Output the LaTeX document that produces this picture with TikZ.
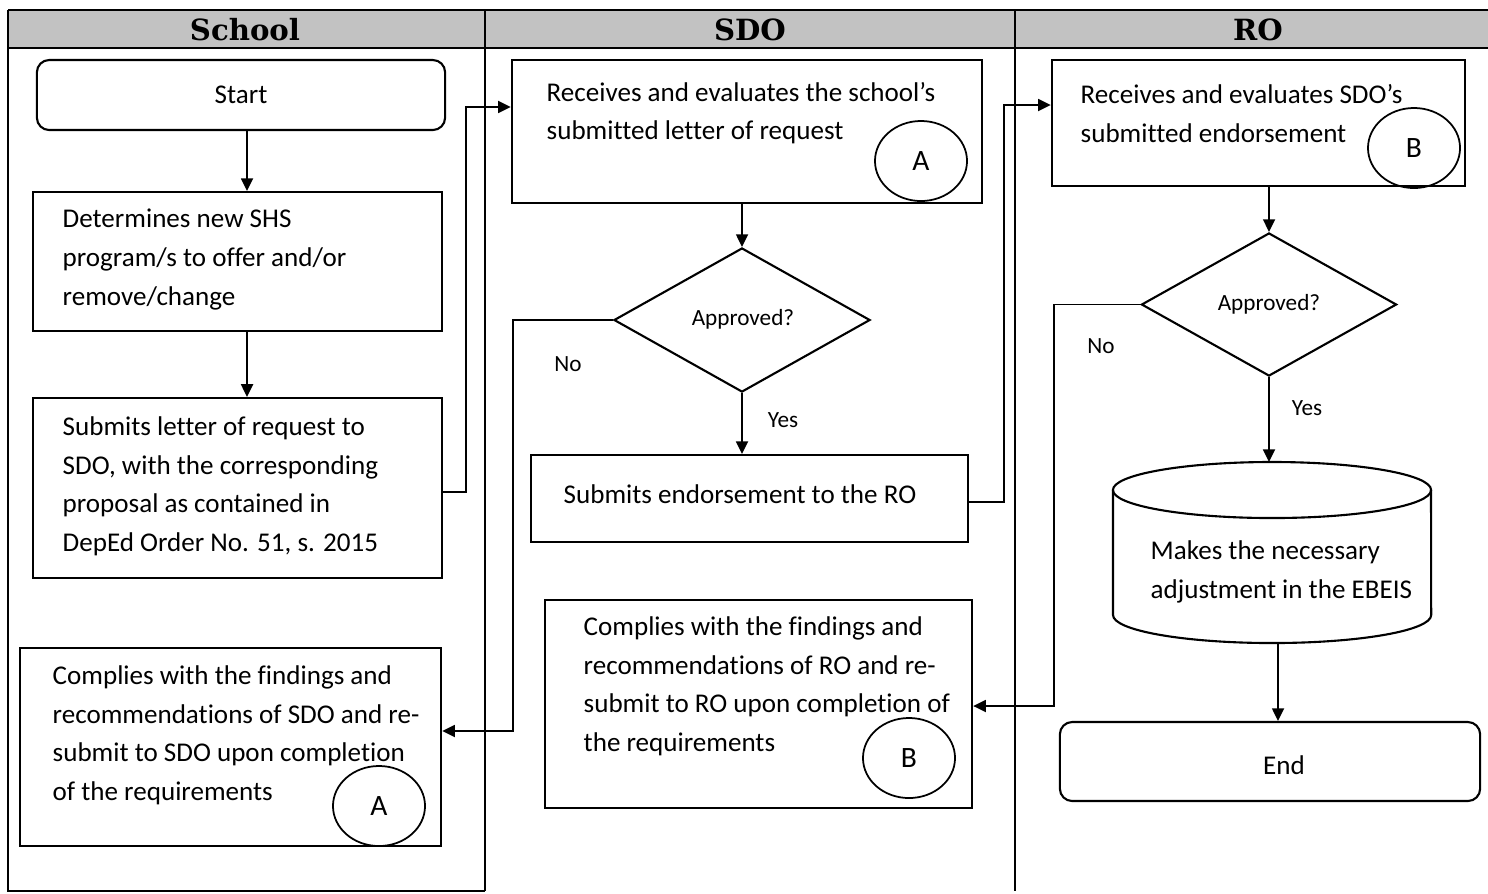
\documentclass[tikz,border=0pt]{standalone}
\usepackage{fontspec}
\setmainfont{Carlito}[Ligatures=NoCommon]
\newfontfamily\hdrfont{DejaVu Serif}
\usetikzlibrary{shapes.geometric,arrows.meta}
\begin{document}
\begin{tikzpicture}[x=0.01cm,y=-0.01cm,
  box/.style={draw, line width=0.6pt, inner sep=0pt},
  rbox/.style={box, rounded corners=3.5pt},
  txt/.style={font=\fontsize{7.7}{10.95}\selectfont, align=left, anchor=west, inner sep=0pt},
  ctxt/.style={font=\fontsize{7.7}{10.95}\selectfont, inner sep=0pt},
  lbl/.style={font=\fontsize{6.6}{8}\selectfont, inner sep=0pt},
  hdr/.style={font=\hdrfont\bfseries\fontsize{8.3}{9}\selectfont, inner sep=0pt},
  conn/.style={line width=0.55pt, -{Triangle[length=3.6pt,width=3.4pt]}},
  lane/.style={line width=0.35pt},
  circ/.style={draw, ellipse, line width=0.5pt, minimum width=0.92cm, minimum height=0.80cm, inner sep=0pt, font=\fontsize{8.4}{9}\selectfont},
  dia/.style={draw, diamond, line width=0.6pt, inner sep=0pt}
]
\useasboundingbox (0,0) rectangle (1488,893);
% header band and lanes
\fill[black!24] (8,10) rectangle (1488,48);
\draw[lane] (8,10) -- (1488,10);
\draw[lane] (8,48) -- (1488,48);
\draw[lane] (8,10) -- (8,891) -- (485,891);
\draw[lane] (485,10) -- (485,891);
\draw[lane] (1015,10) -- (1015,891);
\node[hdr] (hSchool) at (245,30) {School};
\node[hdr] (hSDO) at (750,30) {SDO};
\node[hdr] (hRO) at (1258,30) {RO};

% School lane
\node[rbox, minimum width=4.08cm, minimum height=0.70cm, font=\fontsize{7.7}{9}\selectfont] (start) at (241,95) {Start};
\node[box, minimum width=4.09cm, minimum height=1.39cm] (det) at (237.5,261.5) {};
\node[txt] (dett) at (62,259.5) {Determines new SHS\\program/s to offer and/or\\remove/change};
\node[box, minimum width=4.09cm, minimum height=1.80cm] (sub) at (237.5,488) {};
\node[txt] (subt) at (62,486.5) {Submits letter of request to\\SDO, with the corresponding\\proposal as contained in\\DepEd Order No. 51, s. 2015};
\node[box, minimum width=4.21cm, minimum height=1.98cm] (compA) at (230.5,747) {};
\node[txt] (compAt) at (52,735.5) {Complies with the findings and\\recommendations of SDO and re-\\submit to SDO upon completion\\of the requirements};
\node[circ] (cA2) at (379,806) {A};

% SDO lane
\node[box, minimum width=4.70cm, minimum height=1.43cm] (recS) at (747,131.5) {};
\node[txt] (recSt) at (546,113) {Receives and evaluates the school's\\submitted letter of request};
\node[circ] (cA1) at (921,161) {A};
\node[dia, minimum width=2.56cm, minimum height=1.44cm] (dS) at (742,320) {};
\node[lbl] (dSt) at (743,319) {Approved?};
\node[box, minimum width=4.37cm, minimum height=0.87cm] (endS) at (749.5,498.5) {};
\node[txt] (endSt) at (563,494) {Submits endorsement to the RO};
\node[box, minimum width=4.27cm, minimum height=2.08cm] (compB) at (758.5,704) {};
\node[txt] (compBt) at (583,686.5) {Complies with the findings and\\recommendations of RO and re-\\submit to RO upon completion of\\the requirements};
\node[circ] (cB2) at (909,758) {B};

% RO lane
\node[box, minimum width=4.13cm, minimum height=1.26cm] (recR) at (1258.5,123) {};
\node[txt] (recRt) at (1080,113.5) {Receives and evaluates SDO's\\submitted endorsement};
\node[circ] (cB1) at (1414,148) {B};
\node[dia, minimum width=2.55cm, minimum height=1.43cm] (dR) at (1269,304.5) {};
\node[lbl] (dRt) at (1269,304) {Approved?};
\node[minimum width=3.18cm, minimum height=1.81cm, inner sep=0pt] (cyl) at (1272,552.5) {};
\draw[line width=0.6pt] (1113,490) -- (1113,615) arc[start angle=180, end angle=360, x radius=1.59cm, y radius=0.28cm] -- (1431,490);
\draw[line width=0.6pt] (1272,490) ellipse [x radius=1.59cm, y radius=0.28cm];
\node[txt] (cylt) at (1150,572) {Makes the necessary\\adjustment in the EBEIS};
\node[rbox, minimum width=4.20cm, minimum height=0.79cm] (end) at (1270,761.5) {};
\node[ctxt] (endt) at (1284,765) {End};

% connectors
\draw[conn] ([xshift=0.06cm]start.south) -- ([xshift=0.06cm]start.south |- det.north);
\draw[conn] ([xshift=0.095cm]det.south) -- ([xshift=0.095cm]det.south |- sub.north);
\draw[conn] ([yshift=-0.04cm]sub.east) -- ++(23,0) |- ([yshift=0.245cm]recS.west);
\draw[conn] (recS.south -| dS.north) -- (dS.north);
\draw[conn] (dS.south) -- (dS.south |- endS.north);
\draw[conn] (dS.west) -- ++(-100,0) |- ([yshift=0.16cm]compA.east);
\draw[conn] ([yshift=-0.035cm]endS.east) -- ++(35,0) |- ([yshift=0.18cm]recR.west);
\draw[conn] (recR.south -| dR.north) -- (dR.north);
\draw[conn] (dR.south) -- (dR.south |- 1269,462);
\draw[conn] (dR.west) -- ++(-86,0) |- ([yshift=-0.02cm]compB.east);
\draw[conn] ([xshift=0.06cm]cyl.south) -- ([xshift=0.06cm]cyl.south |- end.north);

% labels
\node[lbl] (noS) at (568,364) {No};
\node[lbl] (yesS) at (783,420) {Yes};
\node[lbl] (noR) at (1101,346) {No};
\node[lbl] (yesR) at (1307,408) {Yes};
\end{tikzpicture}
\end{document}
